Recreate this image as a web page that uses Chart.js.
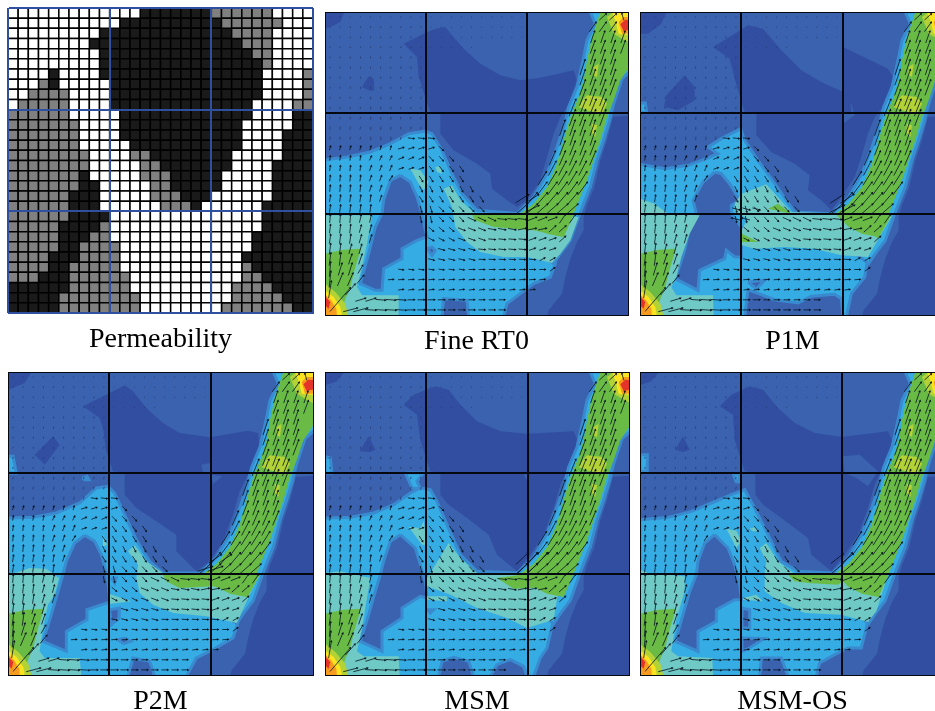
<!DOCTYPE html>
<html>
<head>
<meta charset="utf-8">
<title>Permeability and velocity fields</title>
<script src="https://cdn.jsdelivr.net/npm/chart.js@4"></script>
<style>
    html, body { margin: 0; background: #fff; overflow: hidden; width: 935px; height: 711px; }
    canvas { position: absolute; filter: blur(0.35px); }
</style>
</head>
<body>
<script>
// Permeability cells, top row first: W = white, G = grey, K = black
const permeabilityRows = [
    'WWWWWWWWWWWWWKKKKKKKGGGGGGWWWW',
    'WWWWWWWWWWWKKKKKKKKKKGGGGGGWWW',
    'WWWWWWWWWKKKKKKKKKKKKKGGGGWWWW',
    'WWWWWWWWKKKKKKKKKKKKKKKGGGWWWW',
    'WWWWWWWWWKKKKKKKKKKKKKKKGGWWWW',
    'WWWWWWWWWKKKKKKKKKKKKKKKKGWWWW',
    'WWWWKWWWWKKKKKKKKKKKKKKKKWWWWG',
    'WWWGKWWWWWKKKKKKKKKKKKKKKWWWWG',
    'WWGGGGWWWWKKKKKKKKKKKKKKKWWWWG',
    'WGGGGGWWWWKKKKKKKKKKKKKKWWWWGG',
    'GGGGGGWWWWWKKKKKKKKKKKKKWWWWKK',
    'GGGGGGGWWWWKKKKKKKKKKKKWWWWWKK',
    'GGGGGGGWWWWKKKKKKKKKKKKWWWWKKK',
    'GGGGGGGWWWWWKKKKKKKKKKKWWWWKKK',
    'GGGGGGGGWWWWGGKKKKKKKKWWWWWKKK',
    'GGGGGGGGWWWWWGGKKKKKKKWWWWKKKK',
    'GGGGGGGKWWWWWGGGKKKKKWWWWWKKKK',
    'GGGGGGGKKWWWWWGGKKKKKWWWWWKKKK',
    'GGGGGGKKKWWWWWGGGKKKWWWWWWKKKK',
    'GGGGGGKKKWWWWWWGGGKWWWWWWKKKKK',
    'GGGGGGKKKKWWWWWWWWWWWWWWWKKKKK',
    'GGGGGKKKKGWWWWWWWWWWWWWWWKKKKK',
    'GGGGGKKKGGWWWWWWWWWWWWWWKKKKKK',
    'GGGGGKKGGGGWWWWWWWWWWWWWKKKKKK',
    'GGGGKKKGGGGWWWWWWWWWWWWKKKKKKK',
    'GGGGKKGGGGGWWWWWWWWWWWWGKKKKKK',
    'GGGKKKGGGGGGWWWWWWWWWWWGGKKKKK',
    'KKKKKKGGGGGGWWWWWWWWWWGGGGKKKK',
    'KKKKKGGGGGGGGWWWWWWWWWGGGGGKKK',
    'KKKKKGGGGGGGGWWWWWWWWGGGGGGGKK'
];

// Contour levels, low to high
const colMid = '#3a62ae';
const colDark = '#324ea0';
const colEdge = '#3a8ad0';
const colCyan = '#35ace4';
const colTeal = '#6fc9c4';
const colGreen = '#69bb46';
const colLime = '#b3d236';
const colYellow = '#fbe41f';
const colOrange = '#f79b1e';
const colRed = '#e4342a';

// Shapes shared by all flow panels, flat x,y lists in the axis units
const background = [14,35, 940,35, 940,950, 14,950];
const darkRight = [940,345, 878,350, 860,420, 840,480, 822,560, 800,615, 790,650, 790,690, 770,725, 750,775, 735,830, 725,880, 685,930, 680,950, 940,950];
const stemCyan = [590,640, 640,590, 680,520, 710,440, 730,380, 745,320, 770,260, 790,170, 800,120, 825,70, 810,35, 940,35, 940,205, 905,235, 880,310, 868,360, 850,420, 830,480, 810,560, 790,610, 775,650, 750,720, 720,760, 700,790, 660,760, 620,690];
const stemGreen = [600,640, 640,610, 680,560, 710,490, 730,420, 750,350, 775,290, 790,240, 800,180, 815,110, 830,65, 840,35, 940,35, 940,180, 900,240, 880,300, 860,350, 840,420, 820,480, 800,540, 780,590, 760,640, 730,710, 680,700, 640,680];
const stemLime1 = [775,320, 790,295, 800,285, 845,290, 860,310, 845,340, 800,330];
const stemLime2 = [815,370, 830,375, 825,410, 812,395];
const stemLime3 = [820,200, 835,190, 830,230, 820,225];
const sinkLime = [860,50, 880,35, 940,35, 940,135, 880,100];
const sinkYellow = [875,35, 940,35, 940,105, 895,100, 885,60];
const sinkOrange = [895,65, 910,50, 940,50, 940,100, 905,100];
const sinkRed = [900,72, 915,58, 940,60, 940,85, 910,92];
const fanGreen = [14,760, 70,748, 122,745, 105,800, 90,860, 75,895, 60,950, 14,950];
const fanLime = [14,850, 45,875, 75,910, 85,950, 14,950];
const fanYellow = [14,870, 40,890, 60,920, 65,950, 14,950];
const fanOrange = [14,882, 32,900, 48,925, 50,950, 14,950];
const fanRed = [14,888, 30,905, 25,925, 14,915];

// Fine RT0
const fineDark = [[250,130, 310,100, 345,85, 375,80, 395,105, 430,145, 480,190, 540,225, 600,240, 660,232, 760,210, 770,240, 740,320, 720,350, 700,400, 680,470, 660,540, 620,600, 590,620, 560,600, 515,565, 510,520, 470,490, 400,450, 360,400, 360,340, 330,335, 315,290, 295,230, 290,170],
    [14,35, 72,35, 60,65, 30,80, 14,85], [125,260, 145,228, 160,235, 162,270, 150,272]];
const fineBody = [[14,478, 80,470, 150,455, 210,430, 265,400, 315,392, 335,400, 365,450, 395,520, 425,580, 470,630, 600,640, 700,700, 705,790, 690,830, 640,850, 600,880, 560,910, 550,950, 445,950, 440,900, 370,895, 365,950, 14,950]];
const fineHoles = [[240,525, 210,540, 190,600, 185,640, 165,680, 145,760, 120,850, 165,870, 185,870, 190,805, 245,775, 245,745, 290,720, 320,710, 315,690, 305,640, 290,590, 270,545],
    [320,745, 335,740, 345,750, 335,765]];
const fineMid = [];
const fineTeal = [[14,645, 155,645, 140,730, 125,800, 110,860, 125,885, 235,885, 235,950, 14,950],
    [370,565, 395,555, 420,600, 465,640, 620,640, 775,650, 750,720, 720,760, 695,788, 620,770, 550,770, 480,755, 440,725, 405,680, 395,620],
    [270,505, 300,510, 325,545, 310,570, 295,550], [345,500, 360,497, 365,520, 350,515]];
const fineGreen = [[455,645, 620,640, 760,640, 730,710, 640,690, 580,685, 520,680, 465,660]];

// P1M
const p1mDark = [[235,140, 300,100, 340,75, 385,85, 440,150, 500,210, 560,245, 625,275, 648,310, 650,335, 365,340, 330,335, 300,235, 285,175],
    [625,140, 760,205, 780,240, 745,320, 720,350, 700,400, 680,470, 660,530, 620,590, 590,630, 560,600, 520,570, 525,525, 480,490, 410,455, 365,405, 365,340, 625,340, 625,370, 660,345, 650,310, 625,285],
    [88,320, 95,285, 150,225, 180,260, 180,300, 130,330], [16,35, 95,35, 80,70, 40,100, 16,100]];
const p1mBody = [[16,492, 90,505, 160,495, 215,475, 250,460, 220,440, 260,415, 318,385, 330,420, 370,480, 410,535, 480,635, 590,640, 650,700, 700,770, 690,830, 650,880, 635,950, 625,950, 620,895, 600,882, 530,888, 490,908, 420,898, 340,868, 330,950, 16,950],
    [16,308, 32,308, 36,336, 16,336]];
const p1mHoles = [[240,515, 205,545, 175,600, 185,640, 165,680, 150,750, 122,835, 190,870, 195,810, 270,775, 275,750, 300,770, 320,770, 320,725, 320,680, 290,640, 290,615, 315,600, 285,550, 260,520],
    [340,845, 390,840, 365,865]];
const p1mMid = [];
const p1mTeal = [[16,595, 60,610, 100,640, 195,645, 165,700, 140,770, 125,830, 110,860, 125,885, 235,885, 237,950, 16,950],
    [320,580, 395,552, 470,635, 625,640, 770,650, 700,770, 620,765, 540,745, 450,740, 360,745, 322,735, 320,690, 340,655, 300,635, 300,610]];
const p1mGreen = [[400,625, 430,610, 470,640], [322,700, 370,725, 322,725], [625,640, 770,645, 730,715, 690,680]];

// P2M
const p2mDark = [[250,125, 320,90, 375,62, 400,80, 440,130, 490,175, 540,205, 632,218, 745,198, 775,205, 780,255, 745,330, 720,380, 700,450, 670,530, 630,590, 590,620, 530,560, 530,510, 470,470, 410,430, 375,390, 375,325, 340,320, 320,260, 310,190, 300,160],
    [105,270, 160,215, 180,240, 135,300], [25,22, 95,22, 75,55, 25,75]];
const p2mBody = [[25,460, 100,458, 170,445, 240,415, 290,370, 325,365, 345,385, 375,450, 410,525, 450,590, 490,625, 600,625, 700,700, 715,775, 700,820, 640,855, 590,880, 560,935, 465,935, 450,890, 400,880, 385,935, 25,935],
    [25,275, 40,275, 50,325, 25,325], [248,340, 262,335, 268,345, 255,345]];
const p2mHoles = [[255,512, 225,535, 200,590, 190,630, 175,680, 155,750, 130,830, 200,860, 200,800, 262,765, 262,735, 330,712, 325,650, 320,625, 305,570, 285,530],
    [330,735, 360,730, 358,760, 335,780], [355,825, 375,820, 392,830, 372,837], [335,640, 350,640, 345,655]];
const p2mMid = [[605,300, 630,295, 635,325, 610,325], [635,330, 668,335, 640,358]];
const p2mTeal = [[25,632, 90,610, 140,612, 178,640, 165,690, 145,720, 130,790, 120,860, 135,880, 240,880, 245,935, 25,935],
    [385,560, 405,542, 440,590, 490,625, 620,630, 780,630, 750,690, 712,775, 620,755, 520,745, 460,720, 420,685, 410,640, 415,600],
    [330,688, 395,710, 330,718], [310,510, 322,540, 312,545]];
const p2mGreen = [[490,630, 780,630, 745,695, 640,665, 540,670, 500,650]];

// MSM
const msmDark = [[250,120, 280,90, 345,65, 385,75, 420,120, 470,170, 540,200, 620,207, 760,200, 775,235, 745,310, 720,360, 700,430, 670,510, 630,570, 590,620, 530,570, 505,510, 440,460, 385,420, 360,390, 360,325, 330,320, 300,225, 290,150],
    [118,260, 145,215, 165,255, 150,262], [14,22, 72,22, 50,50, 14,62]];
const msmBody = [[14,460, 90,458, 160,445, 220,420, 270,385, 300,370, 330,375, 350,410, 380,480, 420,570, 470,620, 600,625, 690,700, 700,765, 680,850, 660,880, 640,935, 620,935, 610,905, 570,885, 530,900, 510,935, 460,935, 445,890, 400,878, 365,890, 355,935, 14,935],
    [255,325, 310,325, 290,350, 300,372, 275,370], [14,275, 30,280, 35,325, 14,325]];
const msmHoles = [[240,510, 210,530, 190,590, 180,630, 165,680, 145,750, 120,830, 185,860, 185,800, 245,760, 245,730, 300,695, 320,700, 315,650, 300,600, 285,550],
    [320,735, 340,735, 330,745]];
const msmMid = [[610,330, 622,325, 622,350]];
const msmTeal = [[14,625, 60,620, 150,640, 140,700, 125,790, 110,860, 130,875, 235,875, 238,935, 14,935],
    [345,600, 385,535, 420,580, 470,625, 620,628, 720,640, 700,765, 620,790, 560,760, 470,730, 390,690, 320,665, 320,640],
    [265,487, 300,490, 310,470, 320,540, 305,540], [320,695, 380,695, 380,710, 320,705]];
const msmGreen = [[530,640, 620,628, 660,640, 640,670, 580,672]];

// MSM-OS
const msmOsDark = [[255,125, 290,90, 345,65, 385,75, 430,130, 480,175, 540,205, 622,217, 760,200, 775,235, 745,310, 720,360, 700,430, 670,510, 630,570, 590,620, 530,570, 520,520, 440,460, 385,420, 362,390, 362,325, 330,320, 300,225, 295,150],
    [122,255, 145,215, 165,255, 145,262], [16,22, 72,22, 50,50, 16,62]];
const msmOsBody = [[16,465, 100,458, 170,440, 230,415, 290,390, 330,375, 360,430, 400,510, 440,590, 490,620, 590,625, 690,700, 700,770, 680,850, 640,850, 600,870, 555,895, 545,935, 460,935, 440,880, 380,880, 375,935, 16,935],
    [16,270, 38,270, 38,320, 16,320], [295,328, 315,328, 312,352, 305,352]];
const msmOsHoles = [[240,510, 210,535, 190,590, 185,630, 165,680, 145,750, 122,830, 190,860, 190,800, 245,770, 245,735, 300,705, 320,705, 315,660, 300,600, 280,550],
    [322,820, 388,822, 340,852, 322,860], [322,730, 345,735, 345,790, 322,790]];
const msmOsMid = [[625,275, 675,270, 730,320, 700,365, 665,340, 630,325]];
const msmOsTeal = [[16,615, 40,625, 150,635, 150,680, 125,765, 110,860, 130,875, 233,880, 235,935, 16,935],
    [375,550, 395,535, 430,590, 480,628, 620,628, 760,630, 725,740, 700,772, 620,750, 510,745, 440,715, 390,680, 390,620, 395,590],
    [275,492, 305,498, 320,530, 305,550], [345,492, 362,487, 368,500, 355,500], [325,700, 365,690, 385,710, 325,705]];
const msmOsGreen = [[460,630, 620,628, 650,630, 610,660, 520,655, 480,650]];

// Velocity arrows on the 30x30 cells: row, first column, last column, u, v
const arrowRuns = [
    [0,0,9,0,3], [0,10,19,1,2], [0,27,28,20,18], [0,29,29,-6,20],
    [1,0,9,1,4], [1,10,19,1,2], [1,26,28,20,28],
    [2,0,9,1,4], [2,10,19,1,2], [2,26,29,12,35],
    [3,0,9,1,4], [3,10,14,1,2], [3,26,29,14,38],
    [4,0,9,1,5], [4,26,28,14,42],
    [5,0,9,1,5], [5,25,28,15,45],
    [6,0,9,1,5], [6,25,28,16,46],
    [7,0,9,1,5], [7,25,28,17,46],
    [8,0,9,2,6], [8,25,27,18,48],
    [9,0,9,2,6], [9,24,27,20,50],
    [10,0,9,2,7], [10,24,27,18,48],
    [11,0,9,2,8], [11,23,26,16,46],
    [12,0,7,2,9], [12,8,10,18,-2], [12,23,26,15,44],
    [13,0,6,3,11], [13,7,10,16,5], [13,11,11,12,-12], [13,23,26,16,42],
    [14,0,3,2,13], [14,4,6,6,12], [14,7,9,14,6], [14,10,12,12,-13], [14,22,26,18,42],
    [15,0,3,2,15], [15,4,6,6,15], [15,7,9,13,5], [15,10,13,11,-15], [15,22,25,22,42],
    [16,0,3,2,17], [16,4,5,6,16], [16,6,6,9,14], [16,9,13,10,-16], [16,21,25,25,40],
    [17,0,3,2,19], [17,4,5,6,17], [17,9,14,8,-16], [17,21,25,28,38],
    [18,0,4,3,20], [18,5,5,6,17], [18,9,15,10,-16], [18,20,24,30,35],
    [19,0,4,3,22], [19,9,10,5,-18], [19,11,15,13,-14], [19,19,24,32,28],
    [20,0,2,2,24], [20,3,4,5,22], [20,9,10,4,-18], [20,11,13,12,-13], [20,14,16,22,-10], [20,17,19,26,-3], [20,20,22,26,10], [20,23,24,18,26],
    [21,0,2,3,25], [21,3,4,6,22], [21,10,12,14,-12], [21,13,15,20,-8], [21,16,18,22,-4], [21,19,21,24,5], [21,22,23,20,18],
    [22,0,2,4,27], [22,3,4,7,24], [22,10,12,15,-8], [22,13,15,19,-7], [22,16,19,20,-2], [22,20,22,20,7], [22,23,23,18,16],
    [23,0,1,4,32], [23,2,3,8,28], [23,11,14,18,-5], [23,15,19,20,-2], [23,20,22,18,6],
    [24,0,1,5,38], [24,2,3,10,30], [24,10,14,17,-4], [24,15,20,18,-1], [24,21,22,15,8],
    [25,0,0,4,44], [25,1,2,11,36], [25,3,3,14,24], [25,7,13,15,-2], [25,14,21,17,0], [25,22,22,14,10],
    [26,0,0,5,48], [26,1,2,16,38], [26,3,3,20,24], [26,6,21,16,1],
    [27,0,0,8,50], [27,2,2,28,32], [27,7,20,15,2],
    [28,1,1,60,70], [28,3,4,30,9], [28,5,7,28,-2], [28,8,11,20,0], [28,12,17,17,0],
    [29,2,3,42,11], [29,4,7,32,-2], [29,8,11,22,0], [29,12,17,19,0]
];
const fineExtra = [[18,19,20,38,24], [19,20,20,40,20]];
const p1mExtra = [[18,19,20,40,26], [19,19,20,44,22], [19,9,11,22,-6], [20,9,10,-24,6]];
const p2mExtra = [[18,20,21,36,24], [19,19,20,44,14]];
const msmExtra = [[18,19,21,36,34], [19,19,20,30,30]];
const msmOsExtra = [[18,19,20,36,28]];

// Panel titles, and where the coarse grid lines fall on the axes
const panelTitles = ['Permeability', 'Fine RT0', 'P1M', 'P2M', 'MSM', 'MSM-OS'];
const topGridY = [338, 642];
const bottomGridY = [338, 641];
const yRange = [35, 944];

const flowPanels = [
    { title: panelTitles[1], left: 325, top: 12, width: 303, gridX: [316, 620], gridY: topGridY, shift: [0, 0],
      dark: fineDark, body: fineBody, holes: fineHoles, mid: fineMid, teal: fineTeal, green: fineGreen, extra: fineExtra },
    { title: panelTitles[2], left: 640, top: 12, width: 305, gridX: [317, 623], gridY: topGridY, shift: [-2, 0],
      dark: p1mDark, body: p1mBody, holes: p1mHoles, mid: p1mMid, teal: p1mTeal, green: p1mGreen, extra: p1mExtra },
    { title: panelTitles[3], left: 8, top: 372, width: 305, gridX: [317, 622], gridY: bottomGridY, shift: [-11, 13],
      dark: p2mDark, body: p2mBody, holes: p2mHoles, mid: p2mMid, teal: p2mTeal, green: p2mGreen, extra: p2mExtra },
    { title: panelTitles[4], left: 325, top: 372, width: 304, gridX: [317, 622], gridY: bottomGridY, shift: [0, 13],
      dark: msmDark, body: msmBody, holes: msmHoles, mid: msmMid, teal: msmTeal, green: msmGreen, extra: msmExtra },
    { title: panelTitles[5], left: 640, top: 372, width: 305, gridX: [317, 621], gridY: bottomGridY, shift: [-2, 13],
      dark: msmOsDark, body: msmOsBody, holes: msmOsHoles, mid: msmOsMid, teal: msmOsTeal, green: msmOsGreen, extra: msmOsExtra }
];

const PANEL_HEIGHT = 303;
const TITLE_BLOCK = 42;
const titleOptions = text => ({
    display: true,
    position: 'bottom',
    text: text,
    color: '#000',
    font: { family: '"Liberation Serif", serif', size: 28, weight: 'normal', lineHeight: '30px' },
    padding: { top: 12, bottom: 0 }
});

function addCanvas(left, top, width, height) {
    const canvas = document.createElement('canvas');
    canvas.width = width + 2;
    canvas.height = height + TITLE_BLOCK + 1;
    canvas.style.left = (left - 1) + 'px';
    canvas.style.top = (top - 1) + 'px';
    document.body.appendChild(canvas);
    return canvas;
}

function baseOptions(text) {
    return {
        responsive: false,
        animation: false,
        events: [],
        layout: { autoPadding: false, padding: { top: 1, left: 1, right: 1, bottom: 0 } },
        plugins: { legend: { display: false }, tooltip: { enabled: false }, title: titleOptions(text) }
    };
}

function gridAxis(min, max, ticks, color, width, reverse) {
    return {
        type: 'linear',
        min: min,
        max: max,
        reverse: reverse,
        ticks: { display: false },
        border: { display: true, color: color, width: 1, z: 1 },
        grid: {
            color: color,
            lineWidth: ctx => (ctx.tick && (ctx.tick.value === min || ctx.tick.value === max) ? 1 : width),
            drawTicks: false,
            z: 1
        },
        afterBuildTicks: axis => { axis.ticks = ticks.map(v => ({ value: v })); }
    };
}

/**
 * Permeability panel: one square point per cell
 */
function drawPermeability() {
    const left = 8;
    const top = 8;
    const size = 305;
    const cellSets = { W: [], G: [], K: [] };
    permeabilityRows.forEach((row, r) => {
        row.split('').forEach((code, c) => cellSets[code].push({ x: c + 0.5, y: r + 0.5 }));
    });
    const fills = { W: '#ffffff', G: '#808080', K: '#1a1a1a' };
    const radius = (size / 30) / Math.SQRT2;
    const datasets = Object.keys(cellSets).map(code => ({
        data: cellSets[code],
        backgroundColor: fills[code],
        borderColor: '#000',
        borderWidth: 1.5,
        pointStyle: 'rect',
        pointRadius: radius,
        pointBorderWidth: 1.5
    }));
    const options = baseOptions(panelTitles[0]);
    options.scales = {
        x: gridAxis(0, 30, [0, 10, 20, 30], '#2f4f9f', 2, false),
        y: gridAxis(0, 30, [0, 10, 20, 30], '#2f4f9f', 2, true)
    };
    // outer frame of this panel is blue and as heavy as the inner lines
    options.scales.x.grid.lineWidth = 2;
    options.scales.y.grid.lineWidth = 2;
    new Chart(addCanvas(left, top, size, size), { type: 'scatter', data: { datasets }, options });
}

function toPoints(flat, shift) {
    const points = [];
    for (let i = 0; i < flat.length; i += 2) {
        points.push({ x: flat[i] + shift[0], y: flat[i + 1] + shift[1] });
    }
    points.push(points[0]);
    return points;
}

function shapeDataset(flat, color, shift, edge) {
    return {
        data: toPoints(flat, shift || [0, 0]),
        showLine: true,
        fill: 'shape',
        tension: 0,
        backgroundColor: color,
        borderColor: edge || 'transparent',
        borderWidth: edge ? 3 : 0,
        pointRadius: 0
    };
}

/**
 * Arrow shafts as broken lines, heads as rotated triangles.
 * Very slow cells come out as faint dots.
 */
function arrowDatasets(runs) {
    const shafts = [];
    const faint = [];
    const heads = [];
    const angles = [];
    runs.forEach(([row, first, last, u, v]) => {
        for (let c = first; c <= last; c++) {
            const cx = 29 + 30.3 * c;
            const cy = 50 + 30.3 * row;
            const slow = Math.hypot(u, v) < 10;
            (slow ? faint : shafts).push({ x: cx - u / 2, y: cy + v / 2 }, { x: cx + u / 2, y: cy - v / 2 }, { x: NaN, y: NaN });
            if (!slow) {
                heads.push({ x: cx + u / 2, y: cy - v / 2 });
                angles.push(Math.atan2(u, v) * 180 / Math.PI);
            }
        }
    });
    return [
        { data: faint, showLine: true, spanGaps: false, borderColor: '#24386f', borderWidth: 0.8, pointRadius: 0, tension: 0 },
        { data: shafts, showLine: true, spanGaps: false, borderColor: '#06121e', borderWidth: 0.8, pointRadius: 0, tension: 0 },
        { data: heads, pointStyle: 'triangle', pointRadius: 1.5, pointRotation: angles,
          backgroundColor: '#06121e', borderColor: '#06121e', borderWidth: 0 }
    ];
}

function drawFlowPanel(panel) {
    const s = panel.shift;
    let datasets = [shapeDataset(background, colMid)];
    panel.dark.forEach(p => datasets.push(shapeDataset(p, colDark, s)));
    datasets.push(shapeDataset(darkRight, colDark));
    panel.mid.forEach(p => datasets.push(shapeDataset(p, colMid, s)));
    panel.body.forEach(p => datasets.push(shapeDataset(p, colCyan, s, colEdge)));
    datasets.push(shapeDataset(stemCyan, colCyan, null, colEdge));
    panel.holes.forEach(p => datasets.push(shapeDataset(p, colMid, s, colEdge)));
    panel.teal.forEach(p => datasets.push(shapeDataset(p, colTeal, s)));
    datasets.push(shapeDataset(stemGreen, colGreen));
    panel.green.forEach(p => datasets.push(shapeDataset(p, colGreen, s)));
    datasets.push(shapeDataset(fanGreen, colGreen));
    [stemLime1, stemLime2, stemLime3, sinkLime, fanLime].forEach(p => datasets.push(shapeDataset(p, colLime)));
    [sinkYellow, fanYellow].forEach(p => datasets.push(shapeDataset(p, colYellow)));
    [sinkOrange, fanOrange].forEach(p => datasets.push(shapeDataset(p, colOrange)));
    [sinkRed, fanRed].forEach(p => datasets.push(shapeDataset(p, colRed)));
    datasets = datasets.concat(arrowDatasets(arrowRuns.concat(panel.extra)));

    // Chart.js paints high order first, so the list above runs back to front
    datasets.forEach((d, i) => { d.order = datasets.length - i; });

    const options = baseOptions(panel.title);
    const xMax = 14 + panel.width * 3;
    options.scales = {
        x: gridAxis(14, xMax, [14].concat(panel.gridX, [xMax]), '#05080f', 2, false),
        y: gridAxis(yRange[0], yRange[1], [yRange[0]].concat(panel.gridY, [yRange[1]]), '#05080f', 2, true)
    };
    new Chart(addCanvas(panel.left, panel.top, panel.width, PANEL_HEIGHT), { type: 'scatter', data: { datasets }, options });
}

drawPermeability();
flowPanels.forEach(drawFlowPanel);
</script>
</body>
</html>
